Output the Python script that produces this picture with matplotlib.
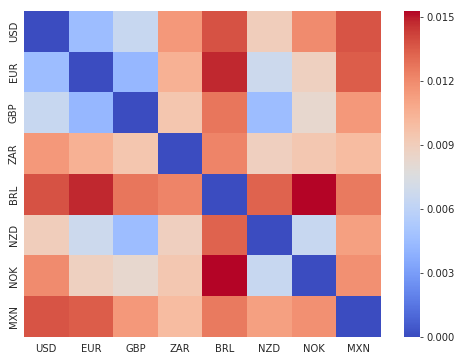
import numpy as np
import pandas as pd
import matplotlib
matplotlib.use("Agg")
import matplotlib.pyplot as plt
import seaborn as sns

currencies = ["USD", "EUR", "GBP", "ZAR", "BRL", "NZD", "NOK", "MXN"]

# upper triangle of the (symmetric) distance matrix, row by row
usd = [0.0045, 0.0065, 0.0115, 0.0138, 0.0090, 0.0120, 0.0137]
eur = [0.0042, 0.0105, 0.0148, 0.0067, 0.0088, 0.0135]
gbp = [0.0095, 0.0127, 0.0045, 0.0083, 0.0115]
zar = [0.0122, 0.0089, 0.0094, 0.0100]
brl = [0.0133, 0.0153, 0.0126]
nzd = [0.0065, 0.0112]
nok = [0.0118]

rows = [usd, eur, gbp, zar, brl, nzd, nok]
n = len(currencies)
mat = np.zeros((n, n))
for i, r in enumerate(rows):
    for k, v in enumerate(r):
        j = i + 1 + k
        mat[i, j] = v
        mat[j, i] = v

df = pd.DataFrame(mat, index=currencies, columns=currencies)

sns.set_style("white")
plt.rcParams["text.color"] = "#262626"
plt.rcParams["xtick.color"] = "#262626"
plt.rcParams["ytick.color"] = "#262626"

fig = plt.figure(figsize=(6.375, 5), dpi=72)
ax = fig.add_axes([0.052, 0.064, 0.778, 0.906])
cax = fig.add_axes([0.880, 0.064, 0.035, 0.906])
sns.heatmap(df, cmap="coolwarm", ax=ax, cbar_ax=cax,
            cbar_kws={"ticks": [0, 0.003, 0.006, 0.009, 0.012, 0.015],
                      "format": "%.3f"})
ax.tick_params(length=0, labelsize=10)
ax.tick_params(axis="x", pad=7)
ax.tick_params(axis="y", pad=5)
cax.tick_params(length=3, labelsize=10)
cax.set_frame_on(False)
fig.savefig("out.png")
